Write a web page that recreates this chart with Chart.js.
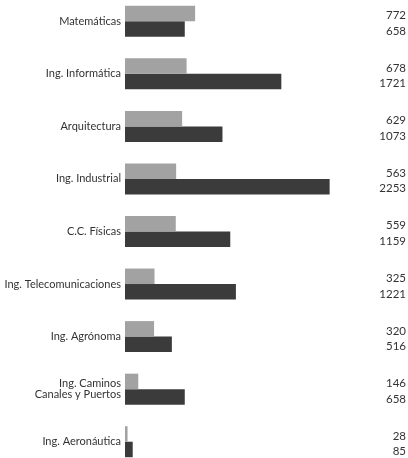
<!DOCTYPE html>
<html>
<head>
<meta charset="utf-8">
<script src="https://cdn.jsdelivr.net/npm/chart.js@4"></script>
<style>
  html, body { margin: 0; padding: 0; background: #fff; overflow: hidden; }
  #wrap { position: absolute; left: 0; top: -5px; width: 408px; height: 473px; }
</style>
</head>
<body>
<div id="wrap"><canvas id="chart"></canvas></div>
<script>
const categories = [
  "Matemáticas",
  "Ing. Informática",
  "Arquitectura",
  "Ing. Industrial",
  "C.C. Físicas",
  "Ing. Telecomunicaciones",
  "Ing. Agrónoma",
  ["Ing. Caminos", "Canales y Puertos"],
  "Ing. Aeronáutica"
];
const lightValues = [772, 678, 629, 563, 559, 325, 320, 146, 28];
const darkValues = [658, 1721, 1073, 2253, 1159, 1221, 516, 658, 85];

const FONT = "Lato, 'Noto Sans', sans-serif";
const TEXT = "#333333";

// numbers at the right edge, one per bar
const valueLabels = {
  id: "valueLabels",
  afterDatasetsDraw(chart) {
    const ctx = chart.ctx;
    ctx.save();
    ctx.font = "11.5px " + FONT;
    ctx.fillStyle = TEXT;
    ctx.textAlign = "right";
    ctx.textBaseline = "middle";
    chart.data.datasets.forEach((ds, di) => {
      chart.getDatasetMeta(di).data.forEach((bar, i) => {
        ctx.fillText(String(ds.data[i]), chart.width - 2, bar.y + 2);
      });
    });
    ctx.restore();
  }
};

new Chart(document.getElementById("chart"), {
  type: "bar",
  data: {
    labels: categories,
    datasets: [
      { data: lightValues, backgroundColor: "#a2a2a2", categoryPercentage: 0.59, barPercentage: 1.0 },
      { data: darkValues, backgroundColor: "#3b3b3b", categoryPercentage: 0.59, barPercentage: 1.0 }
    ]
  },
  options: {
    indexAxis: "y",
    responsive: true,
    maintainAspectRatio: false,
    animation: false,
    layout: { padding: { left: 0, right: 65, top: 0, bottom: 0 } },
    plugins: { legend: { display: false }, tooltip: { enabled: false } },
    scales: {
      x: {
        display: false,
        min: 0,
        max: 2400
      },
      y: {
        afterFit: (axis) => {
          axis.width = 125;
          axis.paddingTop = 0;
          axis.paddingBottom = 0;
        },
        grid: { display: false, drawTicks: false },
        border: { display: false },
        ticks: {
          padding: 4,
          color: TEXT,
          font: { family: FONT, size: 11, lineHeight: 1.05 }
        }
      }
    }
  },
  plugins: [valueLabels]
});
</script>
</body>
</html>
